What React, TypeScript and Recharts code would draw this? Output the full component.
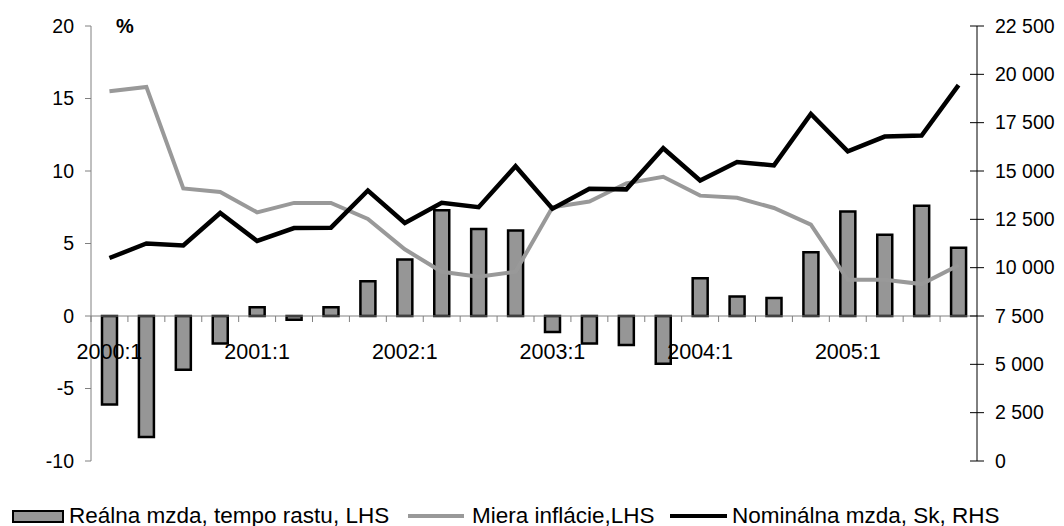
import { Bar, ComposedChart, Legend, Line, ReferenceLine, XAxis, YAxis } from 'recharts'

const periods = [
	'2000:1', '2000:2', '2000:3', '2000:4',
	'2001:1', '2001:2', '2001:3', '2001:4',
	'2002:1', '2002:2', '2002:3', '2002:4',
	'2003:1', '2003:2', '2003:3', '2003:4',
	'2004:1', '2004:2', '2004:3', '2004:4',
	'2005:1', '2005:2', '2005:3', '2005:4',
]

// real wage growth, % (LHS)
const realWage = [
	-6.1, -8.35, -3.7, -1.9, 0.6, -0.25, 0.6, 2.4, 3.9, 7.3, 6.0, 5.9,
	-1.1, -1.9, -2.0, -3.3, 2.6, 1.35, 1.25, 4.4, 7.2, 5.6, 7.6, 4.7,
]

// inflation rate, % (LHS)
const inflation = [
	15.5, 15.8, 8.8, 8.55, 7.15, 7.8, 7.8, 6.7, 4.6, 3.05, 2.7, 3.05,
	7.5, 7.9, 9.15, 9.6, 8.3, 8.15, 7.45, 6.3, 2.5, 2.5, 2.2, 3.5,
]

// nominal wage, Sk (RHS)
const nominalWage = [
	10500, 11250, 11150, 12830, 11380, 12050, 12070, 13990, 12310, 13360, 13130, 15250,
	13050, 14080, 14050, 16180, 14510, 15460, 15290, 17950, 16020, 16780, 16830, 19440,
]

const leftTicks = [-10, -5, 0, 5, 10, 15, 20]
const rightTicks = [0, 2500, 5000, 7500, 10000, 12500, 15000, 17500, 20000, 22500]

const legendNames = ['Reálna mzda, tempo rastu, LHS', 'Miera inflácie,LHS', 'Nominálna mzda, Sk, RHS']

const data = periods.map((p, i) => ({
	period: p,
	real: realWage[i],
	infl: inflation[i],
	nominal: nominalWage[i],
}))

const W = 1048
const H = 518
const TOP = 18
const LEFT_W = 83
const RIGHT_W = 79
const PLOT_H = 435
const X_H = 20
const PLOT_W = W - LEFT_W - RIGHT_W
const BAND = PLOT_W / periods.length
// zero of the left axis, inside the plot
const ZERO_Y = TOP + (PLOT_H * 20) / 30

const FONT = '"Liberation Sans", Arial, sans-serif'

const fmt = (v: number) => String(v).replace(/\B(?=(\d{3})+(?!\d))/g, ' ')

const XTick = (props: any) => {
	const { x, payload, index } = props
	const label: string = payload.value
	return (
		<g>
			<line x1={x - BAND / 2} x2={x - BAND / 2} y1={ZERO_Y} y2={ZERO_Y + 6} stroke='#808080' />
			{index === periods.length - 1 && (
				<line x1={x + BAND / 2} x2={x + BAND / 2} y1={ZERO_Y} y2={ZERO_Y + 6} stroke='#808080' />
			)}
			{label.endsWith(':1') && (
				<text x={x} y={ZERO_Y + 35} dy='0.35em' textAnchor='middle' fontSize={21.5} fill='#000' fontFamily={FONT}>
					{label}
				</text>
			)}
		</g>
	)
}

const RightTick = (props: any) => {
	const { x, y, payload } = props
	return (
		<g>
			<line x1={x - 7} x2={x + 7} y1={y} y2={y} stroke='#000' />
			<text x={x + 18} y={y} dy='0.35em' textAnchor='start' fontSize={19.5} fill='#000' fontFamily={FONT}>
				{fmt(payload.value)}
			</text>
		</g>
	)
}

const renderLegend = () => {
	const item = { position: 'absolute' as const, top: 0, display: 'flex', alignItems: 'center', height: 26 }
	const txt = { fontSize: 22.5, fontFamily: FONT, color: '#000', whiteSpace: 'nowrap' as const }
	return (
		<div style={{ position: 'relative', height: 26, width: W }}>
			<div style={{ ...item, left: 4 }}>
				<div style={{ width: 48, height: 9, background: '#969696', border: '2.5px solid #000', marginRight: 5 }} />
				<span style={txt}>{legendNames[0]}</span>
			</div>
			<div style={{ ...item, left: 400 }}>
				<div style={{ width: 56, height: 4, background: '#999999', marginRight: 8 }} />
				<span style={txt}>{legendNames[1]}</span>
			</div>
			<div style={{ ...item, left: 662 }}>
				<div style={{ width: 57, height: 4, background: '#000', marginRight: 5 }} />
				<span style={txt}>{legendNames[2]}</span>
			</div>
		</div>
	)
}

export default function App() {
	return (
		<ComposedChart
			width={W}
			height={H}
			data={data}
			margin={{ top: TOP, right: 0, bottom: H - TOP - PLOT_H - X_H, left: 0 }}
			barSize={15}
		>
			<XAxis
				dataKey='period'
				interval={0}
				height={X_H}
				axisLine={false}
				tickLine={false}
				tick={<XTick />}
			/>
			<YAxis
				yAxisId='left'
				domain={[-10, 20]}
				ticks={leftTicks}
				width={LEFT_W}
				axisLine={{ stroke: '#808080' }}
				tickLine={{ stroke: '#808080' }}
				tickSize={6}
				tickMargin={11}
				tick={{ fontSize: 19.5, fill: '#000', fontFamily: FONT }}
			/>
			<YAxis
				yAxisId='right'
				orientation='right'
				domain={[0, 22500]}
				ticks={rightTicks}
				width={RIGHT_W}
				axisLine={{ stroke: '#000' }}
				tickLine={false}
				tickSize={0}
				tickMargin={0}
				tick={<RightTick />}
			/>
			<ReferenceLine
				yAxisId='left'
				y={20}
				stroke='none'
				label={{ value: '%', position: 'insideLeft', offset: 25, fontSize: 20, fontWeight: 'bold', fill: '#000', fontFamily: FONT }}
			/>
			<ReferenceLine yAxisId='left' y={0} stroke='#808080' />
			<Bar
				yAxisId='left'
				dataKey='real'
				name={legendNames[0]}
				fill='#969696'
				stroke='#000'
				strokeWidth={2.5}
				isAnimationActive={false}
			/>
			<Line
				yAxisId='left'
				dataKey='infl'
				name={legendNames[1]}
				stroke='#999999'
				strokeWidth={4}
				dot={false}
				isAnimationActive={false}
			/>
			<Line
				yAxisId='right'
				dataKey='nominal'
				name={legendNames[2]}
				stroke='#000'
				strokeWidth={4.5}
				dot={false}
				isAnimationActive={false}
			/>
			<Legend
				verticalAlign='middle'
				layout='horizontal'
				wrapperStyle={{ top: 495, left: 0, width: W }}
				content={renderLegend}
			/>
		</ComposedChart>
	)
}
